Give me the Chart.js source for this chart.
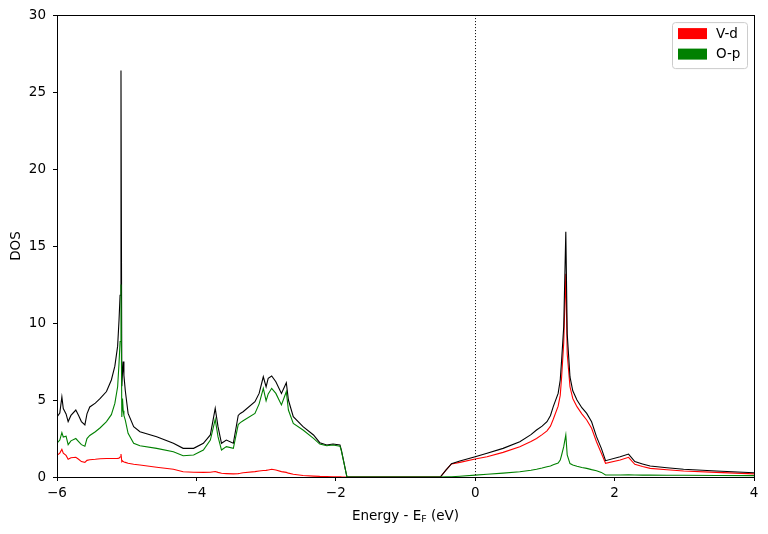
<!DOCTYPE html>
<html>
<head>
<meta charset="utf-8">
<script src="https://cdn.jsdelivr.net/npm/chart.js@4"></script>
<style>
  html, body { margin: 0; padding: 0; background: #fff; }
  #wrap { width: 768px; height: 534px; position: relative; }
</style>
</head>
<body>
<div id="wrap"><canvas id="dosChart"></canvas></div>
<script>
// energies relative to the Fermi level (eV)
const energy = [
  -6.00, -5.96, -5.93, -5.91, -5.87, -5.84, -5.80, -5.73, -5.69, -5.65,
  -5.60, -5.57, -5.53, -5.45, -5.38, -5.29, -5.22, -5.17, -5.13, -5.11,
  -5.095, -5.082, -5.07, -5.06, -5.05, -5.04, -5.02, -4.98, -4.90, -4.81,
  -4.57, -4.33, -4.19, -4.04, -3.90, -3.80, -3.73, -3.69, -3.64, -3.57,
  -3.47, -3.40, -3.37, -3.33, -3.16, -3.10, -3.04, -3.00, -2.97, -2.92,
  -2.86, -2.78, -2.71, -2.68, -2.61, -2.47, -2.32, -2.23, -2.13, -2.04,
  -1.94, -1.92, -1.84, -0.50, -0.42, -0.34, -0.22, 0.00, 0.17, 0.40,
  0.64, 0.80, 0.88, 0.96, 1.03, 1.08, 1.12, 1.19, 1.22, 1.24,
  1.27, 1.30, 1.32, 1.36, 1.40, 1.46, 1.53, 1.60, 1.67, 1.74,
  1.81, 1.87, 2.08, 2.20, 2.29, 2.40, 2.51, 2.75, 2.99, 3.46,
  4.00
];

const totalDos = [
  3.9, 4.15, 5.2, 4.45, 4.1, 3.6, 4.0, 4.35, 4.0, 3.6,
  3.38, 4.1, 4.55, 4.8, 5.1, 5.55, 6.3, 7.2, 8.5, 10.2,
  11.8, 26.4, 5.9, 6.8, 7.5, 6.6, 5.6, 4.13, 3.27, 2.94,
  2.62, 2.19, 1.86, 1.86, 2.19, 2.73, 4.46, 3.27, 2.19, 2.40,
  2.19, 4.0, 4.13, 4.24, 4.89, 5.43, 6.51, 5.86, 6.41, 6.56,
  6.19, 5.43, 6.12, 5.0, 3.92, 3.27, 2.73, 2.23, 2.08, 2.14,
  2.08, 1.75, 0, 0, 0.45, 0.87, 1.04, 1.32, 1.54, 1.86,
  2.29, 2.75, 3.05, 3.3, 3.59, 4.0, 4.57, 5.43, 6.3, 7.6,
  9.76, 15.93, 9.3, 6.5, 5.6, 5.0, 4.5, 4.13, 3.59, 2.62,
  1.86, 1.06, 1.32, 1.49, 1.0, 0.85, 0.71, 0.6, 0.50, 0.39,
  0.28
];

const opDos = [
  2.2, 2.4, 2.88, 2.6, 2.65, 2.1, 2.35, 2.5, 2.3, 2.1,
  2.0, 2.5, 2.7, 2.94, 3.2, 3.6, 4.05, 4.78, 5.86, 7.4,
  8.8, 12.5, 3.9, 5.1, 4.3, 4.0, 3.7, 2.84, 2.19, 2.03,
  1.86, 1.64, 1.38, 1.43, 1.75, 2.40, 3.74, 2.62, 1.75, 1.97,
  1.86, 3.4, 3.53, 3.65, 4.13, 4.75, 5.76, 4.95, 5.4, 5.76,
  5.43, 4.68, 5.54, 4.35, 3.48, 3.05, 2.51, 2.14, 2.03, 2.08,
  2.0, 1.7, 0, 0, 0.01, 0.02, 0.05, 0.12, 0.18, 0.25,
  0.34, 0.44, 0.5, 0.58, 0.67, 0.72, 0.8, 0.9, 1.1, 1.43,
  1.97, 2.73, 1.43, 0.87, 0.78, 0.7, 0.62, 0.56, 0.48, 0.41,
  0.3, 0.13, 0.13, 0.14, 0.13, 0.12, 0.12, 0.11, 0.11, 0.1,
  0.09
];

const vdDos = [
  1.4, 1.55, 1.8, 1.55, 1.4, 1.15, 1.25, 1.28, 1.15, 1.0,
  0.95, 1.08, 1.12, 1.15, 1.19, 1.2, 1.2, 1.2, 1.21, 1.22,
  1.3, 1.49, 1.0, 1.05, 1.0, 0.98, 0.95, 0.89, 0.83, 0.78,
  0.63, 0.5, 0.34, 0.31, 0.3, 0.31, 0.36, 0.3, 0.24, 0.22,
  0.2, 0.22, 0.24, 0.28, 0.35, 0.39, 0.42, 0.43, 0.46, 0.5,
  0.45, 0.35, 0.3, 0.25, 0.18, 0.1, 0.06, 0.04, 0.03, 0.02,
  0.02, 0.01, 0, 0, 0.44, 0.85, 0.95, 1.17, 1.32, 1.6,
  1.97, 2.3, 2.5, 2.75, 3.0, 3.3, 3.75, 4.6, 5.3, 6.5,
  8.7, 13.2, 8.0, 5.86, 5.1, 4.57, 4.1, 3.7, 3.16, 2.29,
  1.54, 0.89, 1.1, 1.28, 0.82, 0.68, 0.56, 0.47, 0.39, 0.3,
  0.2
];

const xTicks = [-6, -4, -2, 0, 2, 4];
const yTicks = [0, 5, 10, 15, 20, 25, 30];
const legendItems = ["V-d", "O-p"];

const FONT = "DejaVu Sans";
const FS = 13.5;

function toPoints(vals) {
  return energy.map((e, i) => ({ x: e, y: vals[i] }));
}

// frame, Fermi line, axis titles and the legend
const decorPlugin = {
  id: "decor",
  afterDatasetsDraw(chart) {
    const c = chart.ctx;
    const a = chart.chartArea;
    const x0 = Math.round(chart.scales.x.getPixelForValue(0)) + 0.5;
    c.save();
    c.strokeStyle = "#000";
    c.lineWidth = 1;
    c.setLineDash([1, 2]);
    c.beginPath();
    c.moveTo(x0, a.top);
    c.lineTo(x0, a.bottom);
    c.stroke();
    c.restore();
  },
  afterDraw(chart) {
    const c = chart.ctx;
    const a = chart.chartArea;
    c.save();
    // frame
    c.strokeStyle = "#000";
    c.lineWidth = 1;
    c.strokeRect(Math.round(a.left) + 0.5, Math.round(a.top) + 0.5,
      Math.round(a.right - a.left), Math.round(a.bottom - a.top));

    // x title with subscript
    c.fillStyle = "#000";
    c.textBaseline = "alphabetic";
    c.font = FS + "px " + FONT;
    const p1 = "Energy - E", sub = "F", p2 = " (eV)";
    const w1 = c.measureText(p1).width, w2 = c.measureText(p2).width;
    c.font = (FS * 0.7) + "px " + FONT;
    const ws = c.measureText(sub).width;
    const tx = (a.left + a.right) / 2 - (w1 + ws + w2) / 2;
    const ty = 519.5;
    c.font = FS + "px " + FONT;
    c.textAlign = "left";
    c.fillText(p1, tx, ty);
    c.font = (FS * 0.7) + "px " + FONT;
    c.fillText(sub, tx + w1, ty + 2);
    c.font = FS + "px " + FONT;
    c.fillText(p2, tx + w1 + ws, ty);

    // y title
    c.translate(16.5, (a.top + a.bottom) / 2);
    c.rotate(-Math.PI / 2);
    c.textAlign = "center";
    c.textBaseline = "middle";
    c.fillText("DOS", 0, 0);
    c.restore();

    // legend
    c.save();
    const bx = a.right - 82, by = a.top + 7, bw = 75, bh = 46;
    c.fillStyle = "rgba(255,255,255,0.8)";
    c.strokeStyle = "#cccccc";
    c.lineWidth = 1;
    c.beginPath();
    c.roundRect(bx + 0.5, by + 0.5, bw, bh, 3);
    c.fill();
    c.stroke();
    c.font = FS + "px " + FONT;
    c.textAlign = "left";
    c.textBaseline = "middle";
    legendItems.forEach((lab, i) => {
      const ds = chart.data.datasets.find(d => d.label === lab);
      const ry = by + 6 + i * 20.5;
      c.fillStyle = ds.borderColor;
      c.fillRect(bx + 6, ry, 29, 11);
      c.fillStyle = "#000";
      c.fillText(lab, bx + 44, ry + 6);
    });
    c.restore();
  }
};

new Chart(document.getElementById("dosChart"), {
  type: "line",
  data: {
    datasets: [
      { label: "O-p", data: toPoints(opDos), borderColor: "#008000", order: 1 },
      { label: "Total", data: toPoints(totalDos), borderColor: "#000000", order: 2 },
      { label: "V-d", data: toPoints(vdDos), borderColor: "#ff0000", order: 3 }
    ]
  },
  options: {
    responsive: true,
    maintainAspectRatio: false,
    animation: false,
    elements: {
      line: { borderWidth: 1.1, tension: 0, fill: false },
      point: { radius: 0 }
    },
    layout: { padding: { top: 15, right: 14, left: 0, bottom: 0 } },
    plugins: {
      legend: { display: false },
      tooltip: { enabled: false }
    },
    scales: {
      x: {
        type: "linear",
        min: -6,
        max: 4,
        afterBuildTicks: s => { s.ticks = xTicks.map(v => ({ value: v })); },
        afterFit: s => { s.height = 57; },
        ticks: {
          color: "#000",
          font: { family: FONT, size: FS },
          padding: 4,
          maxRotation: 0,
          callback: v => String(v).replace("-", "\u2212")
        },
        grid: { drawOnChartArea: false, tickLength: 4, color: "#000" },
        border: { display: false },
        title: { display: false }
      },
      y: {
        type: "linear",
        min: 0,
        max: 30,
        afterBuildTicks: s => { s.ticks = yTicks.map(v => ({ value: v })); },
        afterFit: s => { s.width = 57; },
        ticks: {
          color: "#000",
          font: { family: FONT, size: FS },
          padding: 7
        },
        grid: { drawOnChartArea: false, tickLength: 4, color: "#000" },
        border: { display: false },
        title: { display: false }
      }
    }
  },
  plugins: [decorPlugin]
});
</script>
</body>
</html>
